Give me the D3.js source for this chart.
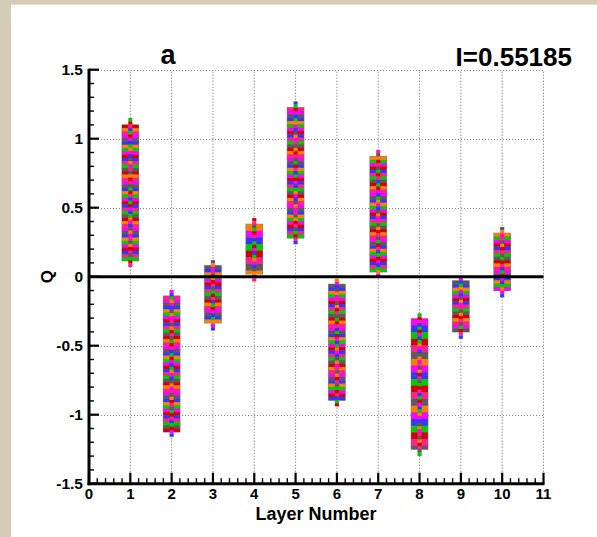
<!DOCTYPE html>
<html><head><meta charset="utf-8">
<script src="https://cdn.jsdelivr.net/npm/d3@7"></script>
<style>
html,body{margin:0;padding:0;background:#d4ccb9;}
svg{display:block;}
text{font-family:"Liberation Sans",Arial,Helvetica,sans-serif;font-weight:bold;fill:#000;}
</style></head>
<body>
<svg id="chart" width="597" height="537"></svg>
<script>
// ---- data ----
const layers   = [1, 2, 3, 4, 5, 6, 7, 8, 9, 10];
const boxMax   = [1.10, -0.14, 0.08, 0.38, 1.225, -0.055, 0.87, -0.305, -0.03, 0.315];
const boxMin   = [0.115, -1.125, -0.335, 0.02, 0.28, -0.895, 0.035, -1.25, -0.40, -0.10];
const lineMax  = [1.15, -0.095, 0.12, 0.425, 1.27, -0.015, 0.92, -0.265, -0.002, 0.36];
const lineMin  = [0.07, -1.16, -0.39, -0.035, 0.235, -0.94, -0.002, -1.30, -0.45, -0.15];
const xTicks   = [0, 1, 2, 3, 4, 5, 6, 7, 8, 9, 10, 11];
const yTicks   = [-1.5, -1, -0.5, 0, 0.5, 1, 1.5];
const yTickLabels = ["-1.5", "-1", "-0.5", "0", "0.5", "1", "1.5"];
const palette  = ["#d40000", "#00cc00", "#3535ff", "#ff00ff", "#ff8000", "#5a5a5a", "#ff1f8f"];
const titleLeft = "a";
const titleRight = "I=0.55185";

const svg = d3.select("#chart");
svg.append("rect").attr("x", 11).attr("y", 4).attr("width", 586).attr("height", 533).attr("fill", "#fff");
svg.append("line").attr("x1", 11).attr("x2", 597).attr("y1", 4.5).attr("y2", 4.5).attr("stroke", "#e4dece").attr("stroke-width", 1);

const x = d3.scaleLinear().domain([0, 11]).range([89, 543.5]);
const y = d3.scaleLinear().domain([-1.5, 1.5]).range([483.7, 69.7]);

// grid
const grid = svg.append("g");
xTicks.filter(d => d > 0).forEach(d => {
  grid.append("line").attr("x1", x(d)).attr("x2", x(d)).attr("y1", y(-1.5)).attr("y2", y(1.5))
    .attr("stroke", "#666").attr("stroke-width", 1).attr("stroke-dasharray", "1,2");
});
yTicks.filter(d => d !== 0 && d !== -1.5).forEach(d => {
  grid.append("line").attr("x1", x(0)).attr("x2", x(11)).attr("y1", Math.round(y(d)) + 0.5).attr("y2", Math.round(y(d)) + 0.5)
    .attr("stroke", "#888").attr("stroke-width", 1).attr("stroke-dasharray", "1,2");
});

// bars built from bands
const bandStep = 0.024;
const halfBox = 0.2, halfLine = 0.05;
const bars = svg.append("g");
layers.forEach((L, i) => {
  const g = bars.append("g");
  const nb = Math.max(1, Math.round((boxMax[i] - boxMin[i]) / bandStep));
  const bands = d3.range(nb).map(k => ({
    top: boxMax[i] - (boxMax[i] - boxMin[i]) * k / nb,
    bot: boxMax[i] - (boxMax[i] - boxMin[i]) * (k + 1) / nb,
    c: palette[(k * 3 + i * 5 + ((k * k + i) % 4)) % palette.length]
  }));
  g.append("rect").attr("x", x(L - halfBox) - 0.5).attr("width", x(L + halfBox) - x(L - halfBox) + 1)
    .attr("y", y(boxMax[i]) - 0.5).attr("height", y(boxMin[i]) - y(boxMax[i]) + 1).attr("fill", "#777");
  g.selectAll(".b").data(bands).join("rect")
    .attr("x", x(L - halfBox)).attr("width", x(L + halfBox) - x(L - halfBox))
    .attr("y", d => y(d.top)).attr("height", d => y(d.bot) - y(d.top))
    .attr("fill", d => d.c);
  const nl = Math.max(1, Math.round((lineMax[i] - lineMin[i]) / bandStep));
  const lb = d3.range(nl).map(k => ({
    top: lineMax[i] - (lineMax[i] - lineMin[i]) * k / nl,
    bot: lineMax[i] - (lineMax[i] - lineMin[i]) * (k + 1) / nl,
    c: palette[(k * 5 + i * 2 + 1 + (k % 3)) % palette.length]
  }));
  g.selectAll(".l").data(lb).join("rect")
    .attr("x", x(L - halfLine)).attr("width", x(L + halfLine) - x(L - halfLine))
    .attr("y", d => y(d.top)).attr("height", d => y(d.bot) - y(d.top))
    .attr("fill", d => d.c);
});

// zero line
svg.append("line").attr("x1", x(0)).attr("x2", x(11)).attr("y1", y(0)).attr("y2", y(0))
  .attr("stroke", "#000").attr("stroke-width", 3);

// axes
const ax = svg.append("g");
d3.range(0, 56).forEach(k => {
  const v = k * 0.2;
  const major = k % 5 === 0;
  ax.append("line").attr("x1", x(v)).attr("x2", x(v)).attr("y1", y(-1.5)).attr("y2", y(-1.5) - (major ? 11 : 5.5))
    .attr("stroke", "#000").attr("stroke-width", major ? 2.2 : 1.4);
});
d3.range(0, 31).forEach(k => {
  const v = -1.5 + k * 0.1;
  const major = k % 5 === 0;
  ax.append("line").attr("x1", x(0)).attr("x2", x(0) + (major ? 10 : 5)).attr("y1", y(v)).attr("y2", y(v))
    .attr("stroke", "#000").attr("stroke-width", major ? 2.2 : 1.4);
});
ax.append("line").attr("x1", x(0)).attr("x2", x(0)).attr("y1", y(1.5) - 1).attr("y2", y(-1.5) + 1.5)
  .attr("stroke", "#000").attr("stroke-width", 3);
ax.append("line").attr("x1", x(0) - 1.5).attr("x2", x(11) + 1).attr("y1", y(-1.5)).attr("y2", y(-1.5))
  .attr("stroke", "#000").attr("stroke-width", 3);

// tick labels
xTicks.forEach(d => {
  svg.append("text").attr("x", x(d)).attr("y", 499).attr("text-anchor", "middle")
    .attr("font-size", 15).text(String(d));
});
yTicks.forEach((d, i) => {
  svg.append("text").attr("x", 83).attr("y", y(d) + 5.5).attr("text-anchor", "end")
    .attr("font-size", 15.5).text(yTickLabels[i]);
});

// axis titles
svg.append("text").attr("x", 316).attr("y", 520).attr("text-anchor", "middle").attr("font-size", 18).text("Layer Number");
svg.append("text").attr("transform", `translate(53,${y(0)}) rotate(-90)`).attr("text-anchor", "middle")
  .attr("font-size", 17).text("Q");

// titles
svg.append("text").attr("x", 168).attr("y", 64).attr("text-anchor", "middle").attr("font-size", 27).text(titleLeft);
svg.append("text").attr("x", 572).attr("y", 66).attr("text-anchor", "end").attr("font-size", 26).text(titleRight);
</script>
</body></html>
